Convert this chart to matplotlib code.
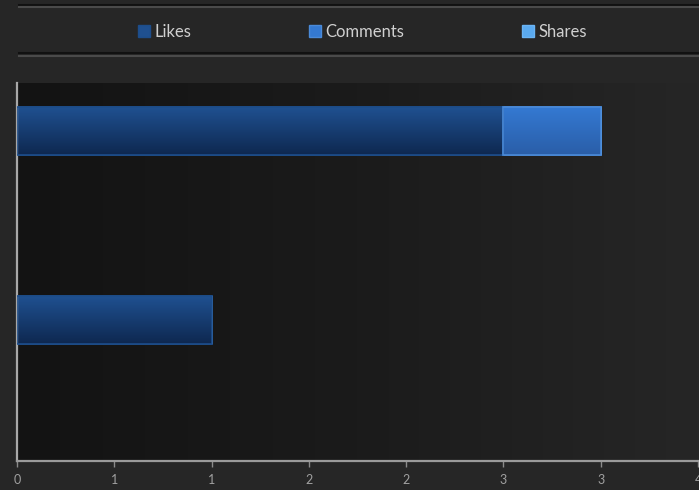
import numpy as np
import matplotlib
matplotlib.use("Agg")
import matplotlib.pyplot as plt
from matplotlib.lines import Line2D
from matplotlib.patches import Patch
from matplotlib.ticker import FuncFormatter, MultipleLocator

plt.rcParams['font.family'] = ['Lato', 'DejaVu Sans']

posts = ['Post 1', 'Post 2']
likes = [2.5, 1.0]
comments = [0.5, 0.0]
shares = [0.0, 0.0]

series = ['Likes', 'Comments', 'Shares']
tops = ['#1f5090', '#3479d2', '#5aaaf0']
bottoms = ['#0e2850', '#2a5ea8', '#3f86d0']
edges = ['#1d4d8a', '#4a8ad8', '#6ab4f4']

fig = plt.figure(figsize=(6.99, 4.9), dpi=100, facecolor='#262626')
ax = fig.add_axes([17 / 699, 1 - 461 / 490, 681 / 699, (461 - 83) / 490])
ax.set_facecolor('#181818')

# horizontal background gradient of the plot area
bg = np.linspace(0, 1, 256).reshape(1, -1)
ax.imshow(bg, extent=[0, 1, 0, 1], transform=ax.transAxes, aspect='auto',
          cmap=matplotlib.colors.LinearSegmentedColormap.from_list('bg', ['#131313', '#1b1b1b', '#262626']),
          zorder=0)

ypos = np.arange(len(posts))
h = 48 / 189
left = np.zeros(len(posts))
vgrad = np.linspace(0, 1, 64).reshape(-1, 1)
for vals, name, top, bot, ec in zip([likes, comments, shares], series, tops, bottoms, edges):
    vals = np.array(vals)
    bars = ax.barh(ypos, vals, left=left, height=h, color=top, edgecolor=ec,
                   linewidth=1.2, label=name, zorder=2)
    cm = matplotlib.colors.LinearSegmentedColormap.from_list(name, [top, bot])
    for b in bars:
        if b.get_width() <= 0:
            continue
        x0, y0 = b.get_x(), b.get_y()
        im = ax.imshow(vgrad, extent=[x0, x0 + b.get_width(), y0 + b.get_height(), y0],
                       aspect='auto', cmap=cm, zorder=2.5)
        im.set_clip_path(b)
        ax.add_patch(matplotlib.patches.Rectangle((x0, y0), b.get_width(), b.get_height(),
                                                  fill=False, edgecolor=ec, linewidth=1.2, zorder=3))
    left = left + vals

ax.set_xlim(0, 3.5)
ax.set_ylim(1.746, -0.254)
ax.xaxis.set_major_locator(MultipleLocator(0.5))
ax.xaxis.set_major_formatter(FuncFormatter(lambda v, p: str(int(np.floor(v + 0.5)))))
ax.set_yticks([])
for s in ['top', 'right']:
    ax.spines[s].set_visible(False)
ax.spines['left'].set_color('#a8a8a8')
ax.spines['left'].set_linewidth(1.6)
ax.spines['bottom'].set_color('#9a9a9a')
ax.spines['bottom'].set_linewidth(1.6)
ax.tick_params(axis='x', colors='#8a8a8a', labelcolor='#a0a0a0', labelsize=9,
               length=4, width=1, pad=5)

# legend band
for y, c, lw in [(5.0, '#111111', 1.5), (7.0, '#4a4a4a', 1.5),
                 (53.0, '#111111', 1.5), (56.0, '#4a4a4a', 1.5)]:
    fig.add_artist(Line2D([19 / 699, 1], [1 - y / 490] * 2, color=c, lw=lw))

handles = [Patch(facecolor=t, edgecolor=e, linewidth=1) for t, e in zip(tops, edges)]
leg = fig.legend(handles, series, loc='center left', ncol=3,
                 bbox_to_anchor=(123 / 699, 1 - 32 / 490), frameon=False,
                 fontsize=12, labelcolor='#d0d0d0', handlelength=0.72, handleheight=0.72,
                 handletextpad=0.24, columnspacing=7.1)

fig.savefig('out.png', dpi=100, facecolor=fig.get_facecolor())
